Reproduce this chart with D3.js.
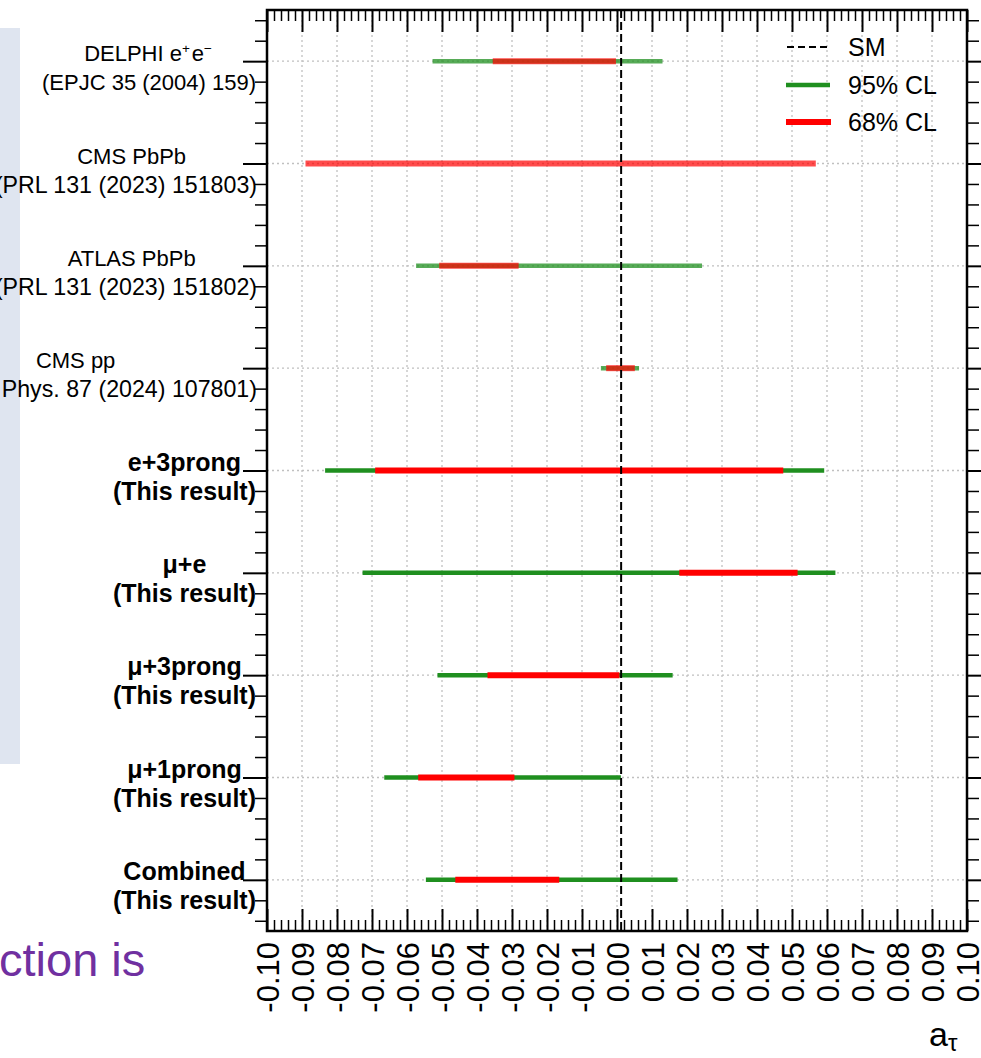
<!DOCTYPE html>
<html>
<head>
<meta charset="utf-8">
<script src="https://cdn.jsdelivr.net/npm/d3@7"></script>
<style>
  html, body { margin: 0; padding: 0; background: #fff; }
  svg { display: block; }
  text { font-family: "Liberation Sans", Arial, Helvetica, sans-serif; }
</style>
</head>
<body>
<div id="chart"></div>
<script>
// Measurement labels (first line / reference line), top to bottom
const labelTop = ["DELPHI e^{+}e^{-}", "CMS PbPb", "ATLAS PbPb", "CMS pp",
  "e+3prong", "μ+e", "μ+3prong", "μ+1prong", "Combined"];
const labelBottom = ["(EPJC 35 (2004) 159)", "(PRL 131 (2023) 151803)", "(PRL 131 (2023) 151802)",
  "(Rep. Prog. Phys. 87 (2024) 107801)", "(This result)", "(This result)", "(This result)",
  "(This result)", "(This result)"];
const isNew = [false, false, false, false, true, true, true, true, true];

// Confidence intervals on a_tau
const cl95Low  = [-0.0527, null, -0.0574, -0.0046, -0.0834, -0.0727, -0.0513, -0.0665, -0.0546];
const cl95High = [ 0.0130, null,  0.0243,  0.0063,  0.0592,  0.0624,  0.0159,  0.0011,  0.0173];
const cl68Low  = [-0.0355, -0.0890, -0.0508, -0.0031, -0.0691, 0.0178, -0.0370, -0.0568, -0.0462];
const cl68High = [-0.0003,  0.0568, -0.0281,  0.0051,  0.0475, 0.0516,  0.0007, -0.0293, -0.0165];

// Standard Model expectation
const smValue = 0.00118;

// Axis ticks
const xMajorTicks = d3.range(-10, 11).map(i => i / 100);
const xMinorTicks = d3.range(-50, 51).filter(i => i % 5 !== 0).map(i => i / 500);
const tickLabels = xMajorTicks.map(v => (Math.abs(v) < 1e-9 ? 0 : v).toFixed(2));

const legendLabels = ["SM", "95% CL", "68% CL"];

const W = 981, H = 1058;
const fLeft = 267, fRight = 967, fTop = 10, fBottom = 931;
const nRows = labelTop.length;

const green = "#1f8f1f", red = "#ff0000";

const svg = d3.select("#chart").append("svg").attr("width", W).attr("height", H);

const x = d3.scaleLinear().domain([-0.1, 0.1]).range([fLeft, fRight]);
const y = d3.scaleLinear().domain([0, nRows]).range([fTop, fBottom]);
const rowY = i => y(i + 0.5);

// Slide background strip and text fragment
svg.append("rect").attr("x", 0).attr("y", 28).attr("width", 20).attr("height", 736)
  .attr("fill", "#dfe5f0");
svg.append("text").attr("x", -1).attr("y", 976).attr("font-size", 47)
  .attr("fill", "#7030a0").text("ction is");

// Grid
const grid = svg.append("g");
grid.selectAll("line.v").data(xMajorTicks.slice(1, -1)).join("line")
  .attr("x1", d => x(d)).attr("x2", d => x(d)).attr("y1", fTop).attr("y2", fBottom)
  .attr("stroke", "#c0c0c0").attr("stroke-width", 1.3).attr("stroke-dasharray", "2,3");
grid.selectAll("line.h").data(d3.range(nRows)).join("line")
  .attr("x1", fLeft).attr("x2", fRight).attr("y1", d => rowY(d)).attr("y2", d => rowY(d))
  .attr("stroke", "#c0c0c0").attr("stroke-width", 1.3).attr("stroke-dasharray", "2,3");

// Axes (ticks drawn inward)
function styleAxis(g, w) {
  g.select(".domain").remove();
  g.selectAll(".tick line").attr("stroke", "#000").attr("stroke-width", w);
}
svg.append("g").attr("transform", `translate(0,${fBottom})`)
  .call(d3.axisBottom(x).tickValues(xMinorTicks).tickSize(-11).tickFormat(""))
  .call(g => styleAxis(g, 1.5));
svg.append("g").attr("transform", `translate(0,${fTop})`)
  .call(d3.axisTop(x).tickValues(xMinorTicks).tickSize(-11).tickFormat(""))
  .call(g => styleAxis(g, 1.5));
svg.append("g").attr("transform", `translate(0,${fTop})`)
  .call(d3.axisTop(x).tickValues(xMajorTicks).tickSize(-22).tickFormat(""))
  .call(g => styleAxis(g, 2));
const xAxis = svg.append("g").attr("transform", `translate(0,${fBottom})`)
  .call(d3.axisBottom(x).tickValues(xMajorTicks).tickSize(-22).tickPadding(0)
    .tickFormat((d, i) => tickLabels[i]))
  .call(g => styleAxis(g, 2));
xAxis.selectAll(".tick text")
  .attr("transform", "rotate(-90)")
  .attr("text-anchor", "end")
  .attr("x", -11).attr("y", 0).attr("dy", "0.36em")
  .attr("font-size", 31).attr("font-family", "'Liberation Sans', Arial, sans-serif")
  .attr("fill", "#000");

const yMinor = d3.range(0, 45).map(k => 0.1 + 0.2 * k).filter(v => Math.abs((v - 0.5) - Math.round(v - 0.5)) > 1e-6);
const yMajor = d3.range(nRows).map(i => i + 0.5);
[[d3.axisRight, fLeft], [d3.axisLeft, fRight]].forEach(([axisFn, pos]) => {
  svg.append("g").attr("transform", `translate(${pos},0)`)
    .call(axisFn(y).tickValues(yMinor).tickSize(-12).tickFormat(""))
    .call(g => styleAxis(g, 1.5));
  svg.append("g").attr("transform", `translate(${pos},0)`)
    .call(axisFn(y).tickValues(yMajor).tickSize(-24).tickFormat(""))
    .call(g => styleAxis(g, 2));
});

// Intervals
const bars = svg.append("g");
d3.range(nRows).forEach(i => {
  const op = isNew[i] ? 1 : 0.75;
  if (cl95Low[i] !== null) {
    bars.append("line")
      .attr("x1", x(cl95Low[i])).attr("x2", x(cl95High[i]))
      .attr("y1", rowY(i)).attr("y2", rowY(i))
      .attr("stroke", green).attr("stroke-width", 4.5).attr("stroke-opacity", op);
  }
  bars.append("line")
    .attr("x1", x(cl68Low[i])).attr("x2", x(cl68High[i]))
    .attr("y1", rowY(i)).attr("y2", rowY(i))
    .attr("stroke", red).attr("stroke-width", 6).attr("stroke-opacity", isNew[i] ? 1 : 0.7);
});

// SM line
svg.append("line").attr("x1", x(smValue)).attr("x2", x(smValue))
  .attr("y1", fTop).attr("y2", fBottom)
  .attr("stroke", "#000").attr("stroke-width", 2).attr("stroke-dasharray", "8,4");

// Frame
svg.append("rect").attr("x", fLeft).attr("y", fTop)
  .attr("width", fRight - fLeft).attr("height", fBottom - fTop)
  .attr("fill", "none").attr("stroke", "#000").attr("stroke-width", 2.5);

// Row labels
function richText(sel, str, fs) {
  const parts = str.split(/\^\{(.*?)\}/);
  parts.forEach((p, k) => {
    if (!p) return;
    if (k % 2 === 1) {
      sel.append("tspan").attr("font-size", fs * 0.62).attr("dy", -fs * 0.38)
        .text(p === "-" ? "\u2212" : p);
      sel.append("tspan").attr("dy", fs * 0.38).text("\u200A");
    } else {
      sel.append("tspan").text(p);
    }
  });
}
const labelRight = 256;
const labels = svg.append("g");
d3.range(nRows).forEach(i => {
  const fs = isNew[i] ? 25 : 22;
  const g = labels.append("g")
    .attr("font-weight", isNew[i] ? "bold" : "normal").attr("fill", "#000");
  const t1 = g.append("text").attr("y", rowY(i)).attr("font-size", fs).attr("text-anchor", "middle");
  richText(t1, labelTop[i], fs);
  const t2 = g.append("text").attr("y", rowY(i) + 29).attr("font-size", fs)
    .attr("text-anchor", "middle").text(labelBottom[i]);
  const wMax = Math.max(t1.node().getComputedTextLength(), t2.node().getComputedTextLength());
  const cx = labelRight - wMax / 2;
  t1.attr("x", cx);
  if (!isNew[i] && labelBottom[i].length > 21) {
    // long journal references: slightly larger, right-aligned at the axis side
    t2.attr("font-size", 23.2).attr("text-anchor", "end").attr("x", labelRight + 1);
  } else {
    t2.attr("x", cx);
  }
});

// Legend
const legend = svg.append("g");
const legY = [47, 85, 122];
legend.append("line").attr("x1", 787).attr("x2", 829).attr("y1", legY[0]).attr("y2", legY[0])
  .attr("stroke", "#000").attr("stroke-width", 2).attr("stroke-dasharray", "7,4");
legend.append("line").attr("x1", 786).attr("x2", 830).attr("y1", legY[1]).attr("y2", legY[1])
  .attr("stroke", green).attr("stroke-width", 4.5);
legend.append("line").attr("x1", 786).attr("x2", 831).attr("y1", legY[2]).attr("y2", legY[2])
  .attr("stroke", red).attr("stroke-width", 6);
legend.selectAll("text").data(legendLabels).join("text")
  .attr("x", 848).attr("y", (d, i) => legY[i] + 9)
  .attr("font-size", 25).attr("fill", "#000").text(d => d);

// Axis title
const title = svg.append("text").attr("x", 929).attr("y", 1046).attr("font-size", 34).attr("fill", "#000");
title.append("tspan").text("a");
title.append("tspan").attr("font-size", 24).attr("dy", 5).text("τ");
</script>
</body>
</html>
